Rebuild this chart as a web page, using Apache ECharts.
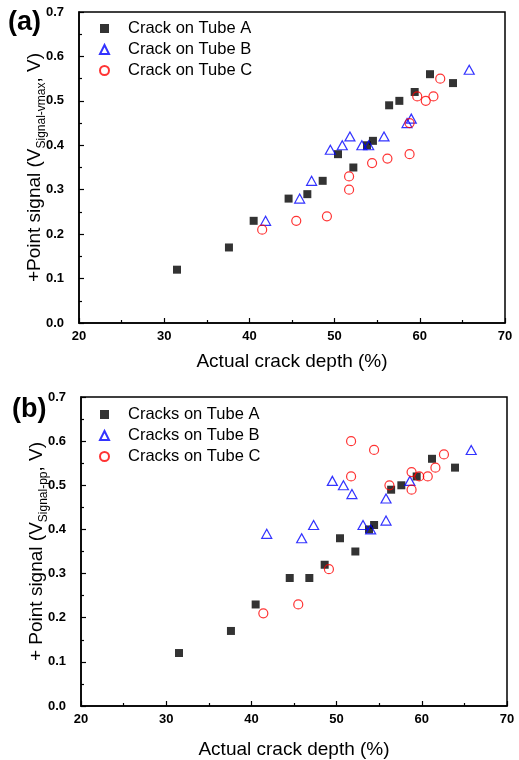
<!DOCTYPE html>
<html>
<head>
<meta charset="utf-8">
<script src="https://cdn.jsdelivr.net/npm/echarts@6/dist/echarts.min.js"></script>
<style>
  html, body { margin: 0; padding: 0; background: #fff; }
  #main { width: 519px; height: 760px; }
</style>
</head>
<body>
<div id="main"></div>
<script>
// panel (a): +Point signal (V signal-vmax)
const depthA1 = [31.5, 37.6, 40.5, 44.6, 46.8, 48.6, 50.4, 52.2, 53.8, 54.5, 56.4, 57.6, 59.4, 61.2, 63.9];
const signalA1 = [0.12, 0.17, 0.23, 0.28, 0.29, 0.32, 0.38, 0.35, 0.40, 0.41, 0.49, 0.50, 0.52, 0.56, 0.54];
const depthB1 = [41.9, 45.9, 47.3, 49.5, 50.9, 51.8, 53.2, 54.0, 55.8, 58.5, 59.0, 65.8];
const signalB1 = [0.23, 0.28, 0.32, 0.39, 0.40, 0.42, 0.40, 0.40, 0.42, 0.45, 0.46, 0.57];
const depthC1 = [41.5, 45.5, 49.1, 51.7, 51.7, 54.4, 56.2, 58.8, 58.8, 59.7, 60.7, 61.6, 62.4];
const signalC1 = [0.21, 0.23, 0.24, 0.30, 0.33, 0.36, 0.37, 0.38, 0.45, 0.51, 0.50, 0.51, 0.55];

// panel (b): + Point signal (V signal-pp)
const depthA2 = [31.5, 37.6, 40.5, 44.5, 46.8, 48.6, 50.4, 52.2, 53.8, 54.4, 56.4, 57.6, 59.4, 61.2, 63.9];
const signalA2 = [0.12, 0.17, 0.23, 0.29, 0.29, 0.32, 0.38, 0.35, 0.40, 0.41, 0.49, 0.50, 0.52, 0.56, 0.54];
const depthB2 = [41.8, 45.9, 47.3, 49.5, 50.8, 51.8, 53.1, 54.0, 55.8, 55.8, 58.6, 65.8];
const signalB2 = [0.39, 0.38, 0.41, 0.51, 0.50, 0.48, 0.41, 0.40, 0.42, 0.47, 0.51, 0.58];
const depthC2 = [41.4, 45.5, 49.1, 51.7, 51.7, 54.4, 56.2, 58.8, 58.8, 59.7, 60.7, 61.6, 62.6];
const signalC2 = [0.21, 0.23, 0.31, 0.52, 0.60, 0.58, 0.50, 0.53, 0.49, 0.52, 0.52, 0.54, 0.57];

const namesA = ['Crack on Tube A', 'Crack on Tube B', 'Crack on Tube C'];
const namesB = ['Cracks on Tube A', 'Cracks on Tube B', 'Cracks on Tube C'];

const pairs = (xs, ys) => xs.map((x, i) => [x, ys[i]]);

const FONT = 'Liberation Sans, Arial, sans-serif';

const xAxisFor = (gridIndex, gap) => ({
  type: 'value', gridIndex, min: 20, max: 70, interval: 10,
  name: 'Actual crack depth (%)', nameLocation: 'middle', nameGap: gap,
  nameTextStyle: { fontFamily: FONT, fontSize: 19, color: '#000' },
  axisLine: { lineStyle: { color: '#000', width: 1.5 } },
  axisTick: { inside: true, length: 5, lineStyle: { color: '#000', width: 1.2 } },
  minorTick: { show: true, splitNumber: 2, length: 3, lineStyle: { color: '#000', width: 1.2 } },
  axisLabel: { fontFamily: FONT, fontSize: 13, fontWeight: 'bold', color: '#000', margin: 7 },
  splitLine: { show: false }
});

const yAxisFor = (gridIndex, sub, prefix) => ({
  type: 'value', gridIndex, min: 0, max: 0.7, interval: 0.1,
  name: '{a|' + prefix + ' (V}{s|' + sub + '}{a|, V)}', nameLocation: 'middle', nameGap: 31,
  nameMoveOverlap: false,
  nameTextStyle: {
    rich: {
      a: { fontFamily: FONT, fontSize: 19, color: '#000', lineHeight: 26 },
      s: { fontFamily: FONT, fontSize: 12, color: '#000', lineHeight: 26, verticalAlign: 'bottom' }
    }
  },
  axisLine: { lineStyle: { color: '#000', width: 1.5 } },
  axisTick: { inside: true, length: 5, lineStyle: { color: '#000', width: 1.2 } },
  minorTick: { show: true, splitNumber: 2, length: 3, lineStyle: { color: '#000', width: 1.2 } },
  axisLabel: { fontFamily: FONT, fontSize: 13, fontWeight: 'bold', color: '#000', margin: 15,
    formatter: v => v.toFixed(1) },
  splitLine: { show: false }
});

const seriesFor = (idx, names, a, b, c) => [
  { name: names[0], type: 'scatter', xAxisIndex: idx, yAxisIndex: idx, data: a,
    symbol: 'rect', symbolSize: 8, itemStyle: { color: '#000' } },
  { name: names[1], type: 'scatter', xAxisIndex: idx, yAxisIndex: idx, data: b,
    symbol: 'triangle', symbolSize: [10, 9], itemStyle: { color: 'rgba(0,0,0,0)', borderColor: '#0000ff', borderWidth: 1.2 } },
  { name: names[2], type: 'scatter', xAxisIndex: idx, yAxisIndex: idx, data: c,
    symbol: 'circle', symbolSize: 9, itemStyle: { color: 'rgba(0,0,0,0)', borderColor: '#ff0000', borderWidth: 1.2 } }
];

const legendFor = (names, top) => ({
  data: names, orient: 'vertical', left: 94, top, itemWidth: 9, itemHeight: 9, itemGap: 4,
  textStyle: { fontFamily: FONT, fontSize: 16.5, color: '#000', padding: [0, 0, 0, 14] }
});

const chart = echarts.init(document.getElementById('main'));
chart.setOption({
  animation: false,
  backgroundColor: '#fff',
  grid: [
    { left: 79, right: 14, top: 12, height: 311, show: true, borderColor: '#000', borderWidth: 1.5 },
    { left: 81, right: 12, top: 397, height: 313, show: true, borderColor: '#000', borderWidth: 1.5 }
  ],
  xAxis: [xAxisFor(0, 29), xAxisFor(1, 34)],
  yAxis: [yAxisFor(0, 'Signal-vmax', '+Point signal'), yAxisFor(1, 'Signal-pp', '+ Point signal')],
  legend: [legendFor(namesA, 15), legendFor(namesB, 401)],
  graphic: [
    { type: 'text', left: 8, top: 9, style: { text: '(a)', font: 'bold 27px ' + FONT, fill: '#000' } },
    { type: 'text', left: 12, top: 396, style: { text: '(b)', font: 'bold 27px ' + FONT, fill: '#000' } }
  ],
  series: [
    ...seriesFor(0, namesA, pairs(depthA1, signalA1), pairs(depthB1, signalB1), pairs(depthC1, signalC1)),
    ...seriesFor(1, namesB, pairs(depthA2, signalA2), pairs(depthB2, signalB2), pairs(depthC2, signalC2))
  ]
});
</script>
</body>
</html>
